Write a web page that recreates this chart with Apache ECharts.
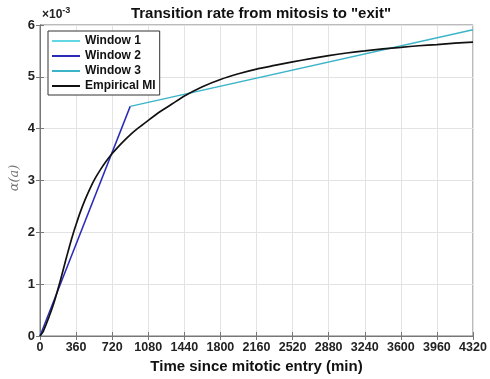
<!DOCTYPE html>
<html><head><meta charset="utf-8">
<script src="https://cdn.jsdelivr.net/npm/echarts@6/dist/echarts.min.js"></script>
<style>html,body{margin:0;padding:0;background:#fff}#c{width:490px;height:379px}</style>
</head><body><div id="c"></div>
<script>
const xTicks = [0,360,720,1080,1440,1800,2160,2520,2880,3240,3600,3960,4320];
const yTicks = [0,1,2,3,4,5,6];
const window1 = [[0,0],[20,0.1]];
const window2 = [[0,0],[900,4.43]];
const window3 = [[900,4.43],[4320,5.91]];
const empiricalT = [0,30,60,90,120,150,180,210,240,270,300,330,360,400,450,500,550,600,660,720,780,840,900,960,1020,1080,1200,1320,1440,1620,1800,1980,2160,2340,2520,2700,2880,3060,3240,3420,3600,3780,3960,4140,4320];
const empiricalV = [0,0.08,0.22,0.37,0.53,0.71,0.91,1.12,1.34,1.56,1.77,1.97,2.15,2.38,2.63,2.85,3.04,3.2,3.37,3.52,3.65,3.77,3.88,3.98,4.07,4.16,4.33,4.48,4.63,4.81,4.95,5.06,5.15,5.22,5.29,5.35,5.41,5.46,5.5,5.54,5.57,5.6,5.62,5.65,5.67];
const empirical = empiricalT.map((t,i)=>[t,empiricalV[i]]);

const font = 'Liberation Sans, Arial, sans-serif';
const chart = echarts.init(document.getElementById('c'));
chart.setOption({
  animation:false,
  title:{text:'Transition rate from mitosis to "exit"',left:256,top:1,textAlign:'center',
    textStyle:{fontFamily:font,fontWeight:'bold',fontSize:15,color:'#111'}},
  grid:{left:40,right:17,top:25,bottom:43,outerBoundsMode:'none',containLabel:false,
    show:true,borderColor:'#777',borderWidth:1,backgroundColor:'#fff'},
  legend:{orient:'vertical',left:48,top:31,itemWidth:28,itemHeight:2,itemGap:1,icon:'rect',
    padding:[3,4,2,4],borderColor:'#333',borderWidth:1,backgroundColor:'#fff',
    data:['Window 1','Window 2','Window 3','Empirical MI'],
    textStyle:{fontFamily:font,fontWeight:'bold',fontSize:12,color:'#111',lineHeight:14}},
  xAxis:[{type:'value',min:0,max:4320,interval:360,
    name:'Time since mitotic entry (min)',nameLocation:'middle',nameGap:23,
    nameTextStyle:{fontFamily:font,fontWeight:'bold',fontSize:15,color:'#111'},
    axisLine:{show:true,lineStyle:{color:'#777'}},
    axisTick:{show:true,inside:true,length:4,lineStyle:{color:'#777'}},
    axisLabel:{fontFamily:font,fontWeight:'bold',fontSize:12.5,color:'#222',margin:5,formatter:v=>String(v)},
    splitLine:{show:true,lineStyle:{color:'#e3e3e3'}}},
   {type:'value',position:'top',min:0,max:4320,interval:360,
    axisLine:{show:true,lineStyle:{color:'#777'}},
    axisTick:{show:true,inside:true,length:4,lineStyle:{color:'#777'}},
    axisLabel:{show:false},splitLine:{show:false}}],
  yAxis:[{type:'value',min:0,max:6,interval:1,
    axisLine:{show:true,lineStyle:{color:'#777'}},
    axisTick:{show:true,inside:true,length:4,lineStyle:{color:'#777'}},
    axisLabel:{fontFamily:font,fontWeight:'bold',fontSize:13,color:'#222',margin:5},
    splitLine:{show:true,lineStyle:{color:'#e3e3e3'}}},
   {type:'value',position:'right',min:0,max:6,interval:1,
    axisLine:{show:true,lineStyle:{color:'#777'}},
    axisTick:{show:true,inside:true,length:4,lineStyle:{color:'#777'}},
    axisLabel:{show:false},splitLine:{show:false}}],
  graphic:[{type:'text',left:42,top:6,style:{
    text:'{a|×10}{b|-3}',
    rich:{a:{fontFamily:font,fontWeight:'bold',fontSize:12,fill:'#222',verticalAlign:'bottom'},
          b:{fontFamily:font,fontWeight:'bold',fontSize:9,fill:'#222',verticalAlign:'top',padding:[0,0,6,0]}}}},
   {type:'text',x:15,y:178,rotation:Math.PI/2,style:{text:'α(a)',align:'center',verticalAlign:'middle',
    font:'italic 13px "DejaVu Serif", serif',fill:'#777'}}],
  series:[
    {name:'Window 1',type:'line',data:window1,symbol:'none',lineStyle:{color:'#5fd8e4',width:1.5},itemStyle:{color:'#5fd8e4'}},
    {name:'Window 2',type:'line',data:window2,symbol:'none',lineStyle:{color:'#2a2ab8',width:1.5},itemStyle:{color:'#2a2ab8'}},
    {name:'Window 3',type:'line',data:window3,symbol:'none',lineStyle:{color:'#3cb4c8',width:1.5},itemStyle:{color:'#3cb4c8'}},
    {name:'Empirical MI',type:'line',data:empirical,symbol:'none',smooth:0.2,lineStyle:{color:'#111',width:1.7},itemStyle:{color:'#111'}}
  ]
});
</script></body></html>
